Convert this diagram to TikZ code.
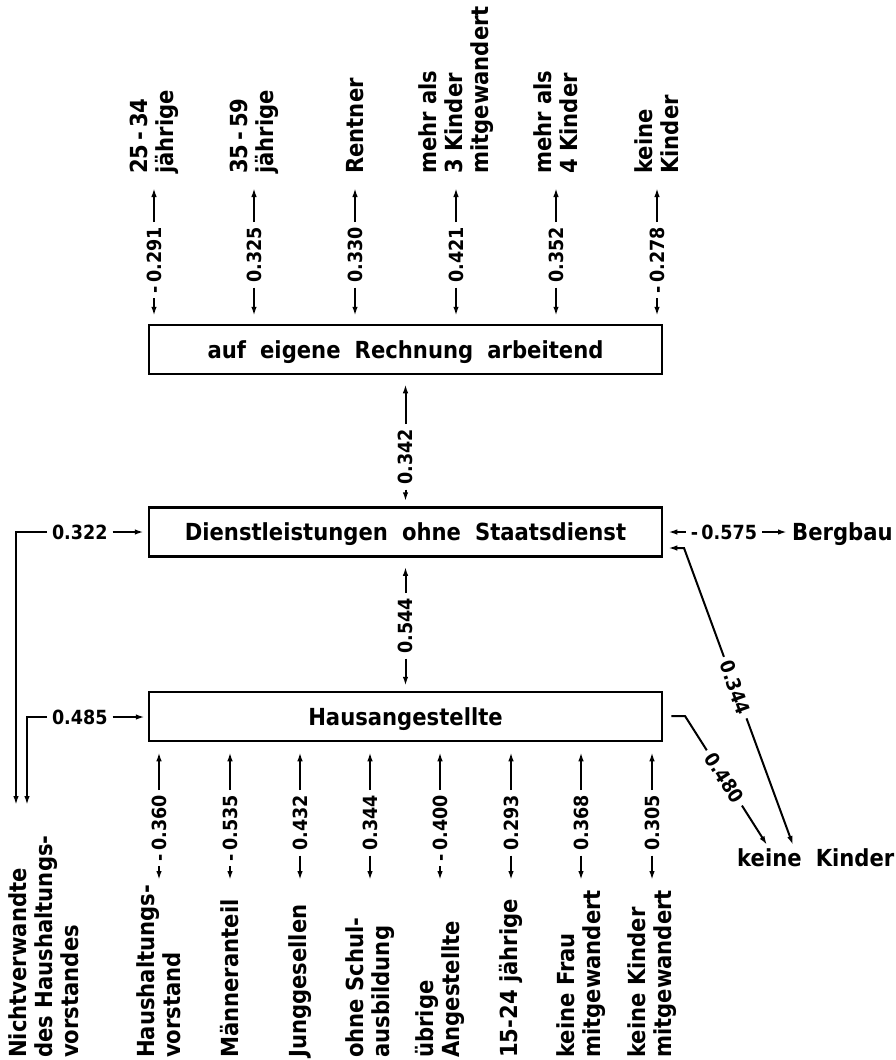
\documentclass[tikz,border=0pt]{standalone}
\usepackage{fontspec}
\setmainfont{DejaVu Sans}[BoldFont={DejaVu Sans Bold},BoldFeatures={FakeStretch=0.9}]
\usetikzlibrary{arrows.meta,calc}

\newcommand{\labfont}{\fontsize{23.5}{26}\selectfont\bfseries}
\newcommand{\widefont}{\fontsize{23.5}{26}\selectfont\bfseries\spaceskip=0.6em\relax}
\newcommand{\numfont}{\fontsize{19.5}{22}\selectfont\bfseries}

\begin{document}
\begin{tikzpicture}[x=1pt,y=-1pt,
  conn/.style={line width=2pt,-{Latex[length=9pt,width=5.5pt]}},
  plain/.style={line width=2pt},
  box/.style={draw,line width=2.5pt,minimum width=513pt,minimum height=49pt,
    inner sep=0pt,font=\widefont,text height=17pt,text depth=0pt},
  lab/.style={rotate=90,anchor=west,align=left,inner sep=0pt,font=\labfont},
  hlab/.style={inner sep=0pt,font=\widefont,text height=17pt,text depth=0pt},
  num/.style={font=\numfont,inner sep=0pt,outer sep=5pt},
  vnum/.style={num,rotate=90,anchor=east}]

\useasboundingbox (0,0) rectangle (896,1060);

% the three sectors
\node[box] (A) at (405.5,349.5) {auf eigene Rechnung arbeitend};
\node[box] (B) at (405.5,532) {Dienstleistungen ohne Staatsdienst};
\node[box] (C) at (405.5,716.5) {Hausangestellte};

% characteristics above the first sector
\foreach \px/\val/\lbl [count=\i] in {
  154/{-\,0.291}/{25\,-\,34\\jährige},
  254/{0.325}/{35\,-\,59\\jährige},
  355/{0.330}/{Rentner},
  456/{0.421}/{mehr als\\3 Kinder\\mitgewandert},
  556/{0.352}/{mehr als\\4 Kinder},
  657/{-\,0.278}/{keine\\Kinder}}
{
  \node[lab] (tl\i) at (\px,174) {\lbl};
  \node[vnum] (tn\i) at (\px,222) {\val};
  \draw[conn,shorten >=14pt] (tn\i.east) -- (tl\i.west);
  \draw[conn,shorten >=8pt] (tn\i.west) -- (tn\i.west |- A.north);
}

% characteristics below the third sector
\foreach \px/\val/\lbl [count=\i] in {
  159/{-\,0.360}/{Haushaltungs-\\vorstand},
  230/{-\,0.535}/{Männeranteil},
  300/{0.432}/{Junggesellen},
  370/{0.344}/{ohne Schul-\\ausbildung},
  440/{-\,0.400}/{übrige\\Angestellte},
  511/{0.293}/{15-24 jährige},
  581/{0.368}/{keine Frau\\mitgewandert},
  652/{0.305}/{keine Kinder\\mitgewandert}}
{
  \node[lab] (bl\i) at (\px,1058) {\lbl};
  \coordinate (be\i) at (\px,880);
  \node[vnum] (bn\i) at (\px,790) {\val};
  \draw[conn,shorten >=10pt] (bn\i.east) -- (bn\i.east |- C.south);
  \draw[conn] (bn\i.west) -- (be\i);
}

% links between the sectors
\node[vnum] (m1) at (405.5,424) {0.342};
\draw[conn,shorten >=9pt] (m1.east) -- (m1.east |- A.south);
\draw[conn,shorten >=5pt] (m1.west) -- (m1.west |- B.north);
\node[vnum] (m2) at (405.5,593) {0.544};
\draw[conn,shorten >=9pt] (m2.east) -- (m2.east |- B.south);
\draw[conn,shorten >=5pt] (m2.west) -- (m2.west |- C.north);

% left: non-relatives of the household head
\node[lab] (nv) at (44,1058) {Nichtverwandte\\des Haushaltungs-\\vorstandes};
\coordinate (nv1) at (16,805);
\coordinate (nv2) at (27,805);
\node[num,anchor=west] (l1) at (47,532) {0.322};
\draw[conn] (l1.west) -| (nv1);
\draw[conn,shorten >=4pt] (l1.east) -- (l1.east -| B.west);
\node[num,anchor=west] (l2) at (47,717) {0.485};
\draw[conn] (l2.west) -| (nv2);
\draw[conn,shorten >=3pt] (l2.east) -- (l2.east -| C.west);

% right: mining and families without children
\node[hlab,anchor=west] (berg) at (792,532) {Bergbau};
\node[num,anchor=east] (r1) at (762,532) {-\,0.575};
\draw[conn,shorten >=5pt] (r1.west) -- (r1.west -| B.east);
\draw[conn,shorten >=5pt] (r1.east) -- (berg.west);

\node[hlab,anchor=west] (kk) at (737,858) {keine Kinder};
\coordinate (kk1) at (767,845);
\coordinate (kk2) at (793,845);

\coordinate (c1) at (684,548);
\path (c1) -- (kk2) node[num,sloped,pos=0.47] (d1) {0.344};
\draw[conn,shorten >=5pt] (d1.west) -- (c1) -- (B.east |- c1);
\draw[conn] (d1.east) -- (kk2);

\coordinate (c2) at (685,716);
\path (c2) -- (kk1) node[num,sloped,pos=0.48] (d2) {0.480};
\draw[plain,shorten <=8pt] (C.east |- c2) -- (c2) -- (d2.west);
\draw[conn] (d2.east) -- (kk1);
\end{tikzpicture}
\end{document}
